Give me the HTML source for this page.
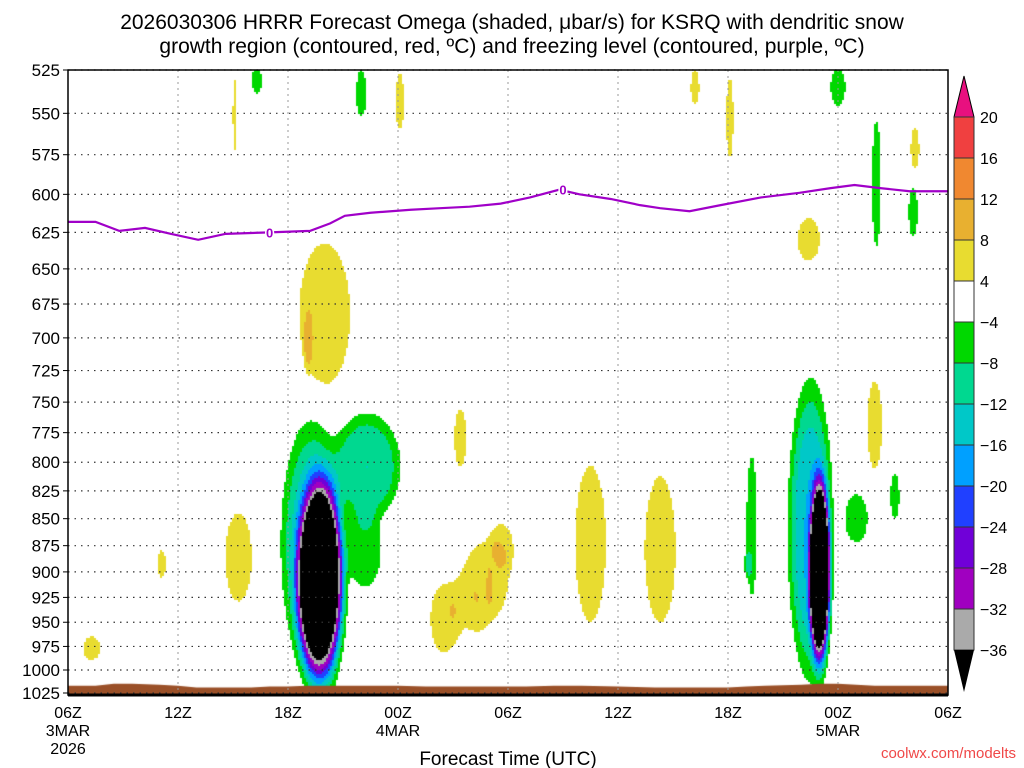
<!DOCTYPE html>
<html><head><meta charset="utf-8"><style>
body{margin:0;background:#fff;width:1024px;height:768px;overflow:hidden;font-family:"Liberation Sans",sans-serif}
#wrap{position:relative;width:1024px;height:768px}
canvas{position:absolute;left:0;top:0}
svg{position:absolute;left:0;top:0}
</style></head><body>
<div id="wrap">
<canvas id="cv" width="1024" height="768"></canvas>
<svg id="sv" width="1024" height="768"></svg>
</div>
<script>
// ---- data ----
const pressureTicks=[525,550,575,600,625,650,675,700,725,750,775,800,825,850,875,900,925,950,975,1000,1025];
const timeTickHours=[0,6,12,18,24,30,36,42,48];
const timeTickLabels=["06Z","12Z","18Z","00Z","06Z","12Z","18Z","00Z","06Z"];
const dateLabels=["3MAR","","","4MAR","","","","5MAR",""];
const colorLevels=[-36,-32,-28,-24,-20,-16,-12,-8,-4,4,8,12,16,20];
const colorFills=["#000000","#aaaaaa","#a000c0","#7000d8","#2040ff","#00a0ff","#00c8c8","#00d890","#00d800","#ffffff","#e8dc30","#e8b030","#f08830","#f04040","#e8107f"];
// omega features: center hour, half-width hours, top pressure, bottom pressure, amplitude
const blobHour=[13.75,13.3,16.3,16.2,41.0,40.5,43.0,37.3,37.1,45.1,44.1,46.1,10.3,16.0,42.0,
 14.0,13.1,9.3,5.1,1.3,21.4,22.8,20.5,23.7,23.0,28.5,32.3,40.4,44.0,9.1,18.1,34.2,36.1,46.2,21.8];
const blobWidth=[1.2,1.6,1.8,1.0,0.55,1.15,0.7,0.35,0.25,0.3,0.3,0.3,0.35,0.35,0.5,
 1.6,0.25,0.9,0.3,0.6,0.4,1.6,0.9,0.7,0.2,1.0,1.0,0.75,0.5,0.15,0.3,0.3,0.25,0.3,1.2];
const blobTop=[820,770,760,840,820,740,825,780,880,805,545,592,522,522,522,
 625,680,835,875,962,750,860,905,850,890,790,800,612,725,522,522,522,522,555,900];
const blobBottom=[1010,990,850,920,990,1000,875,940,905,855,645,632,540,555,548,
 745,725,940,910,992,810,960,990,900,935,965,965,648,815,582,565,548,585,588,975];
const blobAmp=[-48,-14,-12,-7,-48,-16,-7,-6,-6,-6,-6,-6,-6,-6,-6,
 7,5,6,5.5,6,6,5.5,6,5,3,6.5,6.5,6,6,5,5.5,5.5,5.5,5.5,3];
// freezing level
const fzHours=[0,1.5,2.8,4.2,5.6,7.1,8.6,11.0,13.2,14.3,15.1,16.5,18.7,20.3,21.9,23.6,25.2,26.8,27.9,29.6,31.2,32.3,33.9,35.6,37.8,39.9,41.6,42.9,44.3,45.9,48];
const fzPres=[618,618,624,622,626,630,626,625,624,619,614,612,610,609,608,606,602,597,600,603,607,609,611,607,602,599,596,594,596,598,598];
// surface pressure
const sfcHours=[0,1.5,2.5,3.5,5,6,7,9,10,11,12,13,14,16,18,19.5,21,23,25,26.5,28,30,32,34,36,37,38,40,41,42,43,44,48];
const sfcPres=[1017,1017,1015,1015,1016,1017,1019,1019,1019,1018,1018,1017,1017,1017,1017,1018,1018,1018,1018,1017,1017,1018,1019,1019,1019,1018,1017,1016,1015,1015,1016,1017,1017];

// ---- axes ----
const L=68,R=948,T=70,B=693;
const X=h=>L+h*(R-L)/48;
const lnT=Math.log(525),lnB=Math.log(1025);
const Y=p=>T+(Math.log(p)-lnT)/(lnB-lnT)*(B-T);

// ---- shading ----
const cv=document.getElementById('cv'),ctx=cv.getContext('2d');
const by=blobHour.map((h,i)=>[(Y(blobTop[i])+Y(blobBottom[i]))/2,(Y(blobBottom[i])-Y(blobTop[i]))/2]);
function field(px,py){let s=0;for(let i=0;i<blobHour.length;i++){const dx=(px-X(blobHour[i]))/(blobWidth[i]*(R-L)/48),dy=(py-by[i][0])/by[i][1];const r2=dx*dx+dy*dy;if(r2<9)s+=blobAmp[i]*Math.exp(-r2*r2);}return s;}
function colorOf(v){let k=0;while(k<colorLevels.length&&v>=colorLevels[k])k++;return colorFills[k];}
const st=2;
for(let px=L;px<R;px+=st)for(let py=T;py<B;py+=st){const c=colorOf(field(px+1,py+1));if(c!=="#ffffff"){ctx.fillStyle=c;ctx.fillRect(px,py,st,st);}}
// surface
ctx.fillStyle="#9a5028";ctx.beginPath();ctx.moveTo(L,695);
sfcHours.forEach((h,i)=>ctx.lineTo(X(h),Y(sfcPres[i])));ctx.lineTo(R,695);ctx.closePath();ctx.fill();

// ---- svg overlay ----
const NS="http://www.w3.org/2000/svg",sv=document.getElementById('sv');
function mk(tag,at,txt){const e=document.createElementNS(NS,tag);for(const k in at)e.setAttribute(k,at[k]);if(txt!==undefined)e.textContent=txt;sv.appendChild(e);return e;}
// grid
pressureTicks.forEach(p=>{const e=mk('line',{x1:L,x2:R,y1:Y(p),y2:Y(p),stroke:'#333','stroke-width':1.2,'stroke-dasharray':'1.5,5'});


const t=mk('text',{x:60,y:Y(p)+6,'text-anchor':'end','font-size':17,fill:'#000'},String(p));


mk('line',{x1:L-5,x2:L,y1:Y(p),y2:Y(p),stroke:'#000'});});
timeTickHours.forEach((h,i)=>{if(i>0&&i<8){const e=mk('line',{x1:X(h),x2:X(h),y1:T,y2:B,stroke:'#999','stroke-width':1,'stroke-dasharray':'2,4'});

}
const t=mk('text',{x:X(h),y:718,'text-anchor':'middle','font-size':16,fill:'#000'},timeTickLabels[i]);


if(dateLabels[i]){const d=mk('text',{x:X(h),y:736,'text-anchor':'middle','font-size':16,fill:'#000'},dateLabels[i]);

}});
const yr=mk('text',{x:X(0),y:754,'text-anchor':'middle','font-size':16},'2026');


// freezing line
const fl=mk('polyline',{points:fzHours.map((h,i)=>X(h)+','+Y(fzPres[i])).join(' '),fill:'none',stroke:'#a000c8','stroke-width':2.2});


[[11.0,625],[27.0,597]].forEach(a=>{const t=mk('text',{x:X(a[0]),y:Y(a[1])+5,'text-anchor':'middle','font-size':13,'font-weight':'bold',fill:'#a000c8',stroke:'#fff','stroke-width':3,'paint-order':'stroke'},'0');

});
// frame
const fr=mk('rect',{x:L,y:T,width:R-L,height:695-T,fill:'none',stroke:'#000','stroke-width':1.5});


mk('line',{x1:L,x2:R,y1:695,y2:695,stroke:'#000','stroke-width':3});
// colorbar
const cbx=954,cbw=20,cbTop=117,cbStep=41;
const tri=mk('polygon',{points:`${cbx},${cbTop} ${cbx+cbw},${cbTop} ${cbx+cbw/2},76`,fill:colorFills[14],stroke:'#000'});


for(let k=13;k>=1;k--){const y0=cbTop+(13-k)*cbStep;const r=mk('rect',{x:cbx,y:y0,width:cbw,height:cbStep,fill:colorFills[k],stroke:'#333','stroke-width':1});

}
const yb=cbTop+13*cbStep;
const tri2=mk('polygon',{points:`${cbx},${yb} ${cbx+cbw},${yb} ${cbx+cbw/2},692`,fill:'#000'});


colorLevels.slice().reverse().forEach((v,i)=>{const t=mk('text',{x:980,y:cbTop+i*cbStep+6,'font-size':16,fill:'#000'},v<0?'\u2212'+(-v):String(v));

});
// titles
const t1=mk('text',{x:512,y:29,'text-anchor':'middle','font-size':21},'2026030306 HRRR Forecast Omega (shaded, \u03bcbar/s) for KSRQ with dendritic snow');


const t2=mk('text',{x:512,y:53,'text-anchor':'middle','font-size':21},'growth region (contoured, red, \u00baC) and freezing level (contoured, purple, \u00baC)');


const xt=mk('text',{x:508,y:765,'text-anchor':'middle','font-size':19},'Forecast Time (UTC)');


const cr=mk('text',{x:1016,y:758,'text-anchor':'end','font-size':15,fill:'#f04848'},'coolwx.com/modelts');


</script>
</body></html>
